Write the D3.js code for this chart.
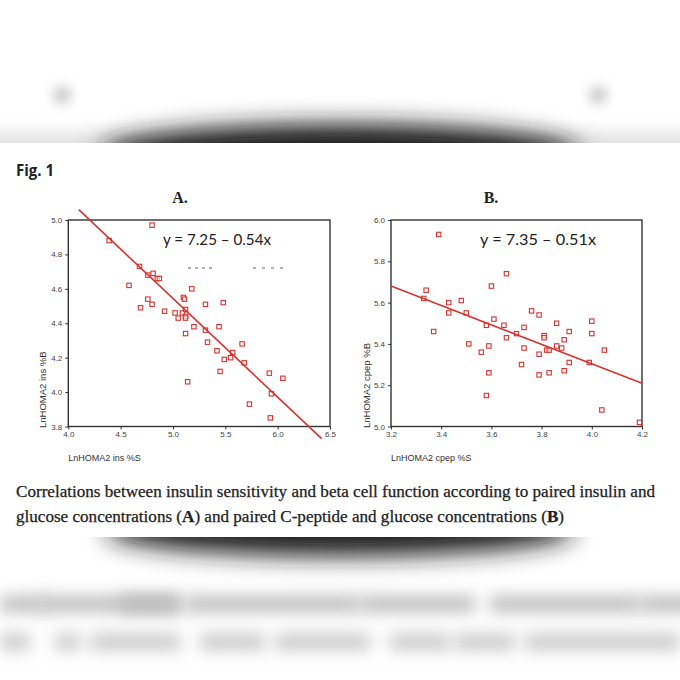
<!DOCTYPE html>
<html>
<head>
<meta charset="utf-8">
<script src="https://cdn.jsdelivr.net/npm/d3@7"></script>
<style>
  html, body { margin: 0; padding: 0; background: #fff; }
  svg { display: block; }
</style>
</head>
<body>
<div id="app"></div>
<script>
// panel A: LnHOMA2 ins %S vs LnHOMA2 ins %B
const aIns = [4.39, 4.80, 4.68, 4.76, 4.81, 4.85, 4.87, 4.58, 5.18, 4.76, 4.80, 4.69, 5.10, 5.11,
  5.31, 5.48, 4.92, 5.02, 5.05, 5.09, 5.12, 5.12, 5.12, 5.20, 5.31, 5.44, 5.12, 5.33, 5.42, 5.57,
  5.66, 5.49, 5.55, 5.68, 5.45, 5.92, 6.05, 5.14, 5.94, 5.73, 5.93];
const aBeta = [4.88, 4.97, 4.73, 4.68, 4.69, 4.66, 4.66, 4.62, 4.60, 4.54, 4.51, 4.49, 4.55, 4.54,
  4.51, 4.52, 4.47, 4.46, 4.43, 4.46, 4.48, 4.44, 4.43, 4.38, 4.36, 4.38, 4.34, 4.29, 4.24, 4.23,
  4.28, 4.19, 4.20, 4.17, 4.12, 4.11, 4.08, 4.06, 3.99, 3.93, 3.85];
const aXTicks = [4.0, 4.5, 5.0, 5.5, 6.0, 6.5];
const aYTicks = [3.8, 4.0, 4.2, 4.4, 4.6, 4.8, 5.0];
const aFitX = [4.10, 6.42];
const aFitY = [5.06, 3.73];

// panel B: LnHOMA2 cpep %S vs LnHOMA2 cpep %B
const bCpep = [3.39, 3.66, 3.34, 3.33, 3.60, 3.43, 3.48, 3.43, 3.50, 3.37, 3.61, 3.76, 3.79, 3.65,
  3.58, 3.73, 3.86, 4.00, 4.00, 3.91, 3.70, 3.66, 3.81, 3.81, 3.89, 3.51, 3.86, 3.88, 3.59, 3.73,
  3.56, 3.82, 3.83, 4.05, 3.79, 3.72, 3.91, 3.99, 3.89, 3.83, 3.79, 3.59, 3.58, 4.04, 4.19];
const bBeta = [5.93, 5.74, 5.66, 5.62, 5.68, 5.60, 5.61, 5.55, 5.55, 5.46, 5.52, 5.56, 5.54, 5.49,
  5.49, 5.48, 5.50, 5.51, 5.45, 5.46, 5.45, 5.43, 5.44, 5.43, 5.42, 5.40, 5.39, 5.38, 5.39, 5.38,
  5.36, 5.37, 5.37, 5.37, 5.35, 5.30, 5.31, 5.31, 5.27, 5.26, 5.25, 5.26, 5.15, 5.08, 5.02];
const bXTicks = [3.2, 3.4, 3.6, 3.8, 4.0, 4.2];
const bYTicks = [5.0, 5.2, 5.4, 5.6, 5.8, 6.0];
const bFitX = [3.2, 4.2];
const bFitY = [5.68, 5.21];

// caption pieces: [text, bold]
const captionLines = [
  [["Correlations between insulin sensitivity and beta cell function according to paired insulin and", false]],
  [["glucose concentrations (", false], ["A", true], [") and paired C-peptide and glucose concentrations (", false], ["B", true], [")", false]]
];

const width = 680, height = 680;
const red = "#d8332f";

const svg = d3.select("#app").append("svg")
  .attr("width", width).attr("height", height);

const defs = svg.append("defs");
[["blur12", 12], ["blur8", 8], ["blur6", 6]].forEach(([id, s]) => {
  defs.append("filter").attr("id", id)
    .attr("x", "-50%").attr("y", "-300%").attr("width", "200%").attr("height", "700%")
    .append("feGaussianBlur").attr("stdDeviation", s);
});
defs.append("clipPath").attr("id", "topClip")
  .append("rect").attr("x", 0).attr("y", 0).attr("width", width).attr("height", 143);
defs.append("clipPath").attr("id", "botClip")
  .append("rect").attr("x", 0).attr("y", 537).attr("width", width).attr("height", 143);

// blurred page behind the figure
const topBlur = svg.append("g").attr("clip-path", "url(#topClip)");
topBlur.append("rect").attr("x", -40).attr("y", 132).attr("width", 760).attr("height", 30)
  .attr("fill", "#e2e2e2").attr("filter", "url(#blur8)");
topBlur.append("ellipse").attr("cx", 340).attr("cy", 154).attr("rx", 240).attr("ry", 30)
  .attr("fill", "#1e1e1e").attr("filter", "url(#blur12)");
topBlur.append("circle").attr("cx", 62).attr("cy", 95).attr("r", 9)
  .attr("fill", "#c8c8c8").attr("filter", "url(#blur6)");
topBlur.append("circle").attr("cx", 598).attr("cy", 95).attr("r", 9)
  .attr("fill", "#c8c8c8").attr("filter", "url(#blur6)");

const botBlur = svg.append("g").attr("clip-path", "url(#botClip)");
botBlur.append("ellipse").attr("cx", 340).attr("cy", 530).attr("rx", 235).attr("ry", 26)
  .attr("fill", "#1e1e1e").attr("filter", "url(#blur12)");
[[0, 45], [40, 140], [120, 60], [185, 175], [360, 115], [490, 150], [640, 60]].forEach(([x, w]) => {
  botBlur.append("rect").attr("x", x).attr("y", 596).attr("width", w).attr("height", 16)
    .attr("fill", "#bcbcbc").attr("filter", "url(#blur8)");
});
[[0, 30], [55, 25], [90, 90], [200, 65], [275, 95], [390, 60], [455, 60], [525, 155]].forEach(([x, w]) => {
  botBlur.append("rect").attr("x", x).attr("y", 634).attr("width", w).attr("height", 16)
    .attr("fill", "#c8c8c8").attr("filter", "url(#blur8)");
});

// figure label
svg.append("text").attr("x", 16).attr("y", 176)
  .attr("font-family", "'Open Sans', sans-serif").attr("font-weight", 700)
  .attr("font-size", 16).attr("fill", "#222")
  .attr("textLength", 38).attr("lengthAdjust", "spacingAndGlyphs")
  .text("Fig. 1");

const drawPanel = (o) => {
  const x = d3.scaleLinear().domain(o.xDomain).range(o.xRange);
  const y = d3.scaleLinear().domain(o.yDomain).range([426.5, 220]);
  const g = svg.append("g");

  g.append("text").attr("x", o.titleX).attr("y", 203)
    .attr("text-anchor", "middle")
    .attr("font-family", "'Liberation Serif', serif").attr("font-weight", 700)
    .attr("font-size", 16).attr("fill", "#222").text(o.title);

  const yAxis = d3.axisLeft(y).tickValues(o.yTicks).tickFormat(d3.format(".1f")).tickSize(3).tickPadding(3);
  const xAxis = d3.axisBottom(x).tickValues(o.xTicks).tickFormat(d3.format(".1f")).tickSize(3).tickPadding(2);
  [g.append("g").attr("transform", `translate(${o.xRange[0]},0)`).call(yAxis),
   g.append("g").attr("transform", "translate(0,426.5)").call(xAxis)].forEach(a => {
    a.select(".domain").remove();
    a.selectAll("line").attr("stroke", "#333");
    a.selectAll("text").attr("font-family", "'Liberation Sans', Arial, sans-serif")
      .attr("font-size", 8).attr("fill", "#444");
  });

  g.append("rect").attr("x", o.xRange[0]).attr("y", 220)
    .attr("width", o.xRange[1] - o.xRange[0]).attr("height", 206.5)
    .attr("fill", "none").attr("stroke", "#333").attr("stroke-width", 1.4);

  // decorative remnants
  (o.dashes || []).forEach(([x1, x2, da]) => {
    g.append("line").attr("x1", x1).attr("x2", x2).attr("y1", 268).attr("y2", 268)
      .attr("stroke", "#666").attr("stroke-width", 1).attr("stroke-dasharray", da);
  });

  const pts = o.xs.map((v, i) => ({ x: v, y: o.ys[i] }));
  g.append("g").selectAll("rect").data(pts).join("rect")
    .attr("x", d => x(d.x) - 2.2).attr("y", d => y(d.y) - 2.2)
    .attr("width", 4.4).attr("height", 4.4)
    .attr("fill", "#fff").attr("fill-opacity", 0.6)
    .attr("stroke", red).attr("stroke-width", 1.1);

  const fit = o.fitX.map((v, i) => [x(v), y(o.fitY[i])]);
  g.append("path").attr("d", d3.line()(fit))
    .attr("stroke", red).attr("stroke-width", 1.6).attr("fill", "none");

  g.append("text").attr("x", o.eqX).attr("y", 245)
    .attr("font-family", "Lato, 'Open Sans', sans-serif").attr("font-size", 15).attr("fill", "#222")
    .attr("textLength", o.eqW).attr("lengthAdjust", "spacingAndGlyphs")
    .text(o.equation);

  g.append("text").attr("x", o.xRange[0]).attr("y", 461)
    .attr("font-family", "'Liberation Sans', Arial, sans-serif").attr("font-size", 9).attr("fill", "#333")
    .text(o.xLabel);

  g.append("text").attr("transform", `translate(${o.yLabelX},428) rotate(-90)`)
    .attr("font-family", "'Liberation Sans', Arial, sans-serif").attr("font-size", 9.5).attr("fill", "#333")
    .text(o.yLabel);
};

drawPanel({
  title: "A.", titleX: 180,
  xDomain: [4.0, 6.5], xRange: [68.3, 330], yDomain: [3.8, 5.0],
  xTicks: aXTicks, yTicks: aYTicks, xs: aIns, ys: aBeta, fitX: aFitX, fitY: aFitY,
  equation: "y = 7.25 \u2013 0.54x", eqX: 163, eqW: 108,
  xLabel: "LnHOMA2 ins %S", yLabel: "LnHOMA2 ins %B", yLabelX: 46,
  dashes: [[188, 214, "3,4"], [253, 287, "3,6"]]
});

drawPanel({
  title: "B.", titleX: 491,
  xDomain: [3.2, 4.2], xRange: [391, 642], yDomain: [5.0, 6.0],
  xTicks: bXTicks, yTicks: bYTicks, xs: bCpep, ys: bBeta, fitX: bFitX, fitY: bFitY,
  equation: "y = 7.35 \u2013 0.51x", eqX: 480, eqW: 116,
  xLabel: "LnHOMA2 cpep %S", yLabel: "LnHOMA2 cpep %B", yLabelX: 370
});

// caption
svg.append("g").selectAll("text").data(captionLines).join("text")
  .attr("x", 16).attr("y", (d, i) => 497 + i * 25)
  .attr("font-family", "'Liberation Serif', 'DejaVu Serif', serif")
  .attr("font-size", 16).attr("fill", "#222")
  .attr("stroke", "#222").attr("stroke-width", 0.25)
  .attr("textLength", (d, i) => i === 0 ? 639 : 548).attr("lengthAdjust", "spacingAndGlyphs")
  .each(function (parts) {
    d3.select(this).selectAll("tspan").data(parts).join("tspan")
      .attr("font-weight", p => p[1] ? 700 : 400)
      .text(p => p[0]);
  });
</script>
</body>
</html>
